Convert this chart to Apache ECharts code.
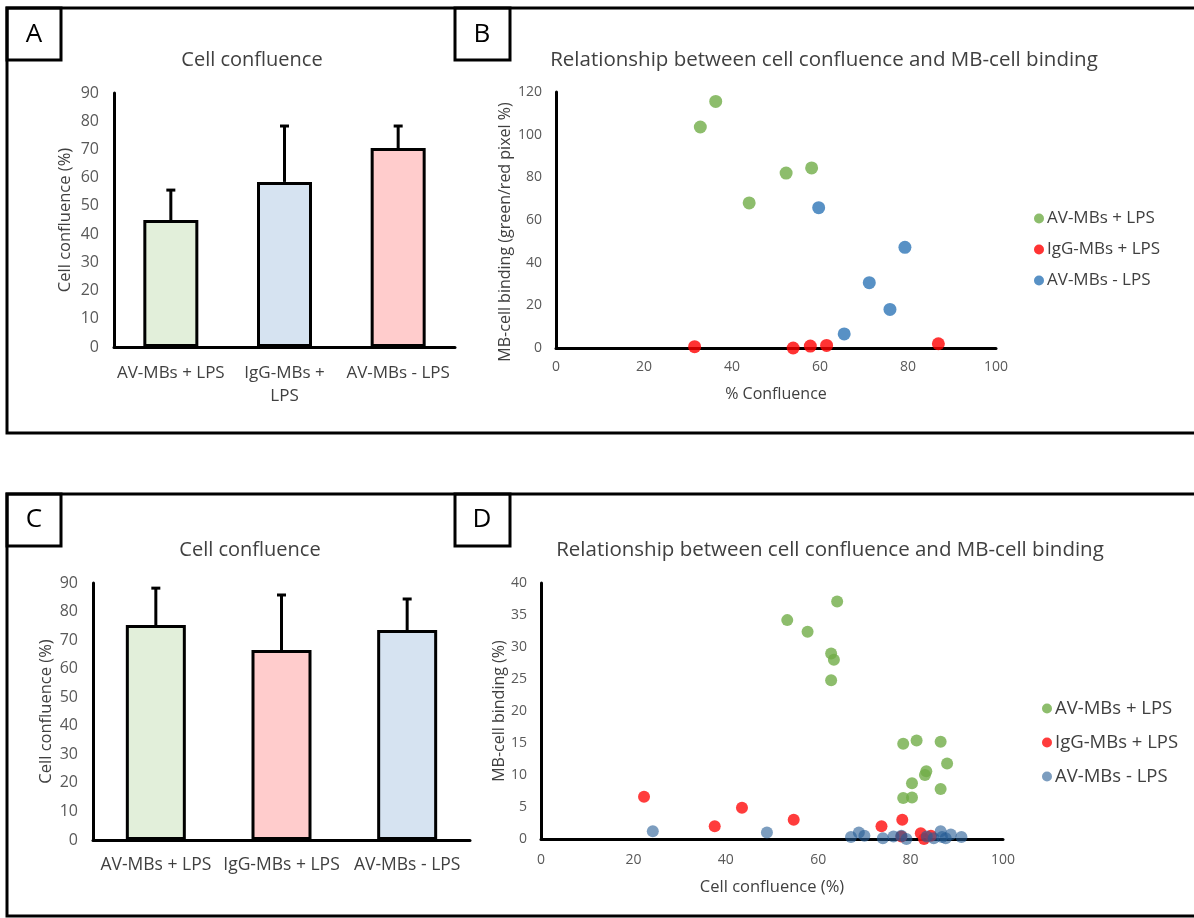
<!DOCTYPE html>
<html>
<head>
<meta charset="utf-8">
<script src="https://cdn.jsdelivr.net/npm/echarts@6/dist/echarts.min.js"></script>
<style>
  html, body { margin: 0; padding: 0; background: #fff; }
  .panelRow { position: absolute; left: 0; width: 1194px; }
  #rowTop { top: 0; height: 460px; }
  #rowBottom { top: 460px; height: 458px; }
</style>
</head>
<body>
<div id="rowTop" class="panelRow"></div>
<div id="rowBottom" class="panelRow"></div>
<script>
// ---- data ----
// A: cell confluence bars (mean, sd)
var catsA = ['AV-MBs + LPS', 'IgG-MBs + LPS', 'AV-MBs - LPS'];
var meanA = [45, 58.5, 70.5];
var sdA = [10.6, 19.8, 7.8];
// C: cell confluence bars (mean, sd)
var catsC = ['AV-MBs + LPS', 'IgG-MBs + LPS', 'AV-MBs - LPS'];
var meanC = [75.3, 66.5, 73.5];
var sdC = [12.9, 19.3, 10.9];
// B: % confluence vs MB-cell binding (green/red pixel %)
var bAvLps = [[32.8, 103.6], [36.3, 115.6], [43.9, 68], [52.3, 82], [58.1, 84.4]];
var bIggLps = [[31.5, 0.6], [53.9, 0], [57.8, 0.9], [61.5, 1.2], [86.9, 2]];
var bAvNoLps = [[59.7, 65.8], [79.3, 47.2], [71.2, 30.6], [75.9, 18.1], [65.5, 6.6]];
// D: cell confluence vs MB-cell binding (%)
var dAvLps = [[53.3, 34.2], [57.7, 32.4], [64.1, 37.1], [62.8, 29], [63.4, 28], [62.8, 24.8],
  [78.4, 14.9], [81.3, 15.4], [86.5, 15.2], [87.9, 11.8], [83.4, 10.6], [83.1, 10],
  [80.3, 8.7], [78.4, 6.4], [80.3, 6.5], [86.5, 7.8]];
var dIggLps = [[22.3, 6.6], [37.6, 2], [43.5, 4.9], [54.7, 3], [73.7, 2], [78.2, 3],
  [78, 0.4], [82.2, 0.9], [82.9, 0], [84.4, 0.5]];
var dAvNoLps = [[24.2, 1.2], [48.9, 1], [67.1, 0.3], [68.8, 1], [70, 0.5], [74, 0.1],
  [76.3, 0.4], [78, 0.5], [79.1, 0], [83.5, 0.4], [85, 0.1], [86.5, 1.2], [86.8, 0.3],
  [87.6, 0.1], [88.7, 0.7], [91, 0.3]];
var seriesNames = ['AV-MBs + LPS', 'IgG-MBs + LPS', 'AV-MBs - LPS'];

// ---- styles ----
var barColorsA = ['#E2EFDA', '#D6E3F1', '#FFCCCC'];
var barColorsC = ['#E2EFDA', '#FFCCCC', '#D6E3F1'];
var FONT = '"Open Sans", "Noto Sans", sans-serif';
var TEXT = '#404040';
var TICK = '#595959';

function errorBar(params, api) {
  var base = api.coord([api.value(0), api.value(1)]);
  var top = api.coord([api.value(0), api.value(2)]);
  var st = { stroke: '#000', lineWidth: 3 };
  return {
    type: 'group',
    children: [
      { type: 'line', shape: { x1: base[0], y1: base[1], x2: top[0], y2: top[1] }, style: st },
      { type: 'line', shape: { x1: top[0] - 4.5, y1: top[1], x2: top[0] + 4.5, y2: top[1] }, style: st },
    ],
  };
}

function valueAxis(gridIndex, min, max, interval, labelSize, labelMargin, extra) {
  var ax = {
    type: 'value',
    gridIndex: gridIndex,
    min: min,
    max: max,
    interval: interval,
    axisLine: { show: true, onZero: false, lineStyle: { color: '#000', width: 3 } },
    axisTick: { show: false },
    splitLine: { show: false },
    axisLabel: { color: TICK, fontSize: labelSize, fontFamily: FONT, margin: labelMargin },
  };
  return Object.assign(ax, extra || {});
}

// shift: moves a rotated y-axis name down the axis (px)
function axisName(text, gap, size, shift) {
  var pad = shift ? [0, shift * 2, 0, 0] : 0;
  return {
    name: text,
    nameLocation: 'middle',
    nameGap: gap,
    nameTextStyle: { color: TEXT, fontSize: size, fontFamily: FONT, padding: pad },
  };
}

function frame(y, h) {
  var st = { fill: 'none', stroke: '#000', lineWidth: 3 };
  return [
    { type: 'rect', shape: { x: 7, y: y, width: 1210, height: h }, style: st },
    { type: 'rect', shape: { x: 7, y: y, width: 54, height: 52 }, style: st },
    { type: 'rect', shape: { x: 455, y: y, width: 55, height: 52 }, style: st },
  ];
}

function label(text, x, y, size) {
  return {
    type: 'text',
    x: x,
    y: y,
    style: { text: text, fill: '#000', font: size + 'px ' + FONT, align: 'center', verticalAlign: 'middle' },
  };
}

function title(text, x, y, size) {
  return {
    type: 'text',
    x: x,
    y: y,
    style: { text: text, fill: TEXT, font: size + 'px ' + FONT, align: 'center', verticalAlign: 'middle' },
  };
}

function barData(means, colors) {
  return means.map(function (v, i) {
    return { value: v, itemStyle: { color: colors[i] } };
  });
}

function errData(means, sds) {
  return means.map(function (v, i) {
    return [i, v, v + sds[i]];
  });
}

function legendOf(left, top, size, gap) {
  return {
    data: seriesNames,
    orient: 'vertical',
    left: left,
    top: top,
    icon: 'circle',
    itemWidth: 10,
    itemHeight: 10,
    itemGap: gap,
    selectedMode: false,
    textStyle: { color: TEXT, fontSize: size, fontFamily: FONT, padding: [0, 0, 0, -2] },
  };
}

// ---- top row: A + B ----
var topChart = echarts.init(document.getElementById('rowTop'));
topChart.setOption({
  animation: false,
  graphic: frame(8, 425).concat([
    label('A', 34, 35, 26),
    label('B', 482, 35, 26),
    title('Cell confluence', 252, 60, 20),
    title('Relationship between cell confluence and MB-cell binding', 824, 60, 20.5),
  ]),
  legend: legendOf(1029, 205, 17, 14),
  grid: [
    { left: 114, top: 93, width: 341, height: 254 },
    { left: 556, top: 92, width: 440, height: 256 },
  ],
  xAxis: [
    {
      type: 'category',
      gridIndex: 0,
      data: catsA,
      axisLine: { lineStyle: { color: '#000', width: 3 } },
      axisTick: { show: false },
      axisLabel: {
        interval: 0,
        color: TEXT,
        fontSize: 17,
        fontFamily: FONT,
        margin: 15,
        lineHeight: 23,
        formatter: function (v) {
          return v === 'IgG-MBs + LPS' ? 'IgG-MBs +\nLPS' : v;
        },
      },
    },
    valueAxis(1, 0, 100, 20, 14, 12, axisName('% Confluence', 38, 16)),
  ],
  yAxis: [
    valueAxis(0, 0, 90, 10, 16, 15, axisName('Cell confluence (%)', 40, 16.5)),
    valueAxis(1, 0, 120, 20, 14, 14, axisName('MB-cell binding (green/red pixel %)', 43, 16, 12)),
  ],
  series: [
    {
      type: 'bar',
      xAxisIndex: 0,
      yAxisIndex: 0,
      barWidth: 55,
      data: barData(meanA, barColorsA),
      itemStyle: { borderColor: '#000', borderWidth: 3 },
    },
    {
      type: 'custom',
      xAxisIndex: 0,
      yAxisIndex: 0,
      renderItem: errorBar,
      data: errData(meanA, sdA),
      z: 3,
    },
    { name: seriesNames[0], type: 'scatter', xAxisIndex: 1, yAxisIndex: 1, symbolSize: 13, itemStyle: { color: '#70AD47' }, data: bAvLps },
    { name: seriesNames[1], type: 'scatter', xAxisIndex: 1, yAxisIndex: 1, symbolSize: 13, itemStyle: { color: '#FF0000' }, data: bIggLps },
    { name: seriesNames[2], type: 'scatter', xAxisIndex: 1, yAxisIndex: 1, symbolSize: 13, itemStyle: { color: '#2E75B6' }, data: bAvNoLps },
  ],
});

// ---- bottom row: C + D ----
var bottomChart = echarts.init(document.getElementById('rowBottom'));
bottomChart.setOption({
  animation: false,
  graphic: frame(34, 422).concat([
    label('C', 34, 60, 26),
    label('D', 482, 60, 26),
    title('Cell confluence', 250, 90, 20),
    title('Relationship between cell confluence and MB-cell binding', 830, 90, 20.5),
  ]),
  legend: legendOf(1037, 234, 18.5, 15),
  grid: [
    { left: 93, top: 123, width: 377, height: 257 },
    { left: 541, top: 123, width: 462, height: 256 },
  ],
  xAxis: [
    {
      type: 'category',
      gridIndex: 0,
      data: catsC,
      axisLine: { lineStyle: { color: '#000', width: 3 } },
      axisTick: { show: false },
      axisLabel: { interval: 0, color: TEXT, fontSize: 17.5, fontFamily: FONT, margin: 16 },
    },
    valueAxis(1, 0, 100, 20, 14, 14, axisName('Cell confluence (%)', 40, 16.5)),
  ],
  yAxis: [
    valueAxis(0, 0, 90, 10, 16, 15, axisName('Cell confluence (%)', 38, 16.5)),
    valueAxis(1, 0, 40, 5, 14, 14, axisName('MB-cell binding (%)', 34, 16)),
  ],
  series: [
    {
      type: 'bar',
      xAxisIndex: 0,
      yAxisIndex: 0,
      barWidth: 60,
      data: barData(meanC, barColorsC),
      itemStyle: { borderColor: '#000', borderWidth: 3 },
    },
    {
      type: 'custom',
      xAxisIndex: 0,
      yAxisIndex: 0,
      renderItem: errorBar,
      data: errData(meanC, sdC),
      z: 3,
    },
    { name: seriesNames[0], type: 'scatter', xAxisIndex: 1, yAxisIndex: 1, symbolSize: 12, itemStyle: { color: '#70AD47' }, data: dAvLps },
    { name: seriesNames[1], type: 'scatter', xAxisIndex: 1, yAxisIndex: 1, symbolSize: 12, itemStyle: { color: '#FF1A1A', opacity: 0.85 }, data: dIggLps },
    { name: seriesNames[2], type: 'scatter', xAxisIndex: 1, yAxisIndex: 1, symbolSize: 12, itemStyle: { color: '#255B94', opacity: 0.6 }, data: dAvNoLps },
  ],
});
</script>
</body>
</html>
